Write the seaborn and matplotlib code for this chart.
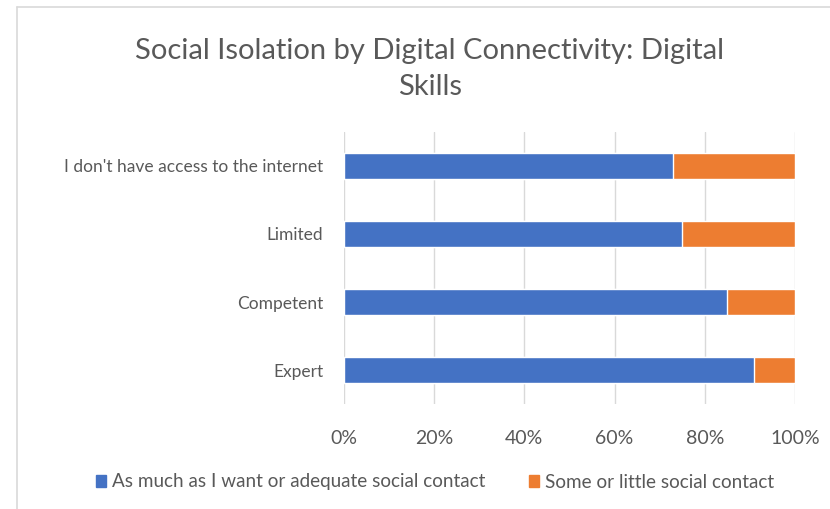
import pandas as pd
import matplotlib.pyplot as plt
import seaborn as sns
from matplotlib.patches import Patch
from matplotlib.lines import Line2D

# data
categories = ["I don't have access to the internet", "Limited", "Competent", "Expert"]
adequate = [73, 75, 85, 91]
little = [27, 25, 15, 9]
series_names = ["As much as I want or adequate social contact", "Some or little social contact"]
colors = ["#4472C4", "#ED7D31"]

df = pd.DataFrame({"Skill": categories, "Adequate": adequate, "Little": little})
df["Total"] = df["Adequate"] + df["Little"]

sns.set_theme(style="white")
plt.rcParams['font.family'] = ['Lato', 'DejaVu Sans']

W, H = 830, 509
fig = plt.figure(figsize=(W / 100, H / 100), dpi=100)
ax = fig.add_axes([344 / W, 1 - 404 / H, (795 - 344) / W, (404 - 132) / H])

sns.barplot(data=df, y="Skill", x="Total", color=colors[1], width=0.39,
            saturation=1, ax=ax, zorder=2)
sns.barplot(data=df, y="Skill", x="Adequate", color=colors[0], width=0.39,
            saturation=1, ax=ax, zorder=3)

ax.set_xlim(0, 100)
ax.set_xticks(range(0, 101, 20))
ax.set_xticklabels([f"{t}%" for t in range(0, 101, 20)])
ax.xaxis.grid(True, color="#D9D9D9", linewidth=1)
ax.set_axisbelow(True)
ax.set_xlabel("")
ax.set_ylabel("")
for s in ax.spines.values():
    s.set_visible(False)
ax.tick_params(axis="y", length=0, labelsize=12.5, colors="#595959", pad=15)
ax.tick_params(axis="x", length=0, labelsize=14, colors="#595959", pad=19)

fig.text(0.518, 1 - 69 / H, "Social Isolation by Digital Connectivity: Digital\nSkills",
         ha="center", va="center", fontsize=21, color="#595959", linespacing=1.5)

handles = [Patch(color=c) for c in colors]
fig.legend(handles, series_names, loc="center", bbox_to_anchor=(0.524, 1 - 482 / H),
           ncol=2, frameon=False, fontsize=13.6, labelcolor="#595959",
           handlelength=0.55, handleheight=0.55, handletextpad=0.3, columnspacing=2.3)

# chart area border (left and top edges visible)
fig.add_artist(Line2D([17 / W, 17 / W], [0, 1 - 7 / H], color="#D9D9D9", lw=1.2,
                      transform=fig.transFigure))
fig.add_artist(Line2D([17 / W, 1], [1 - 7 / H, 1 - 7 / H], color="#D9D9D9", lw=1.2,
                      transform=fig.transFigure))

fig.savefig("out.png", dpi=100)
